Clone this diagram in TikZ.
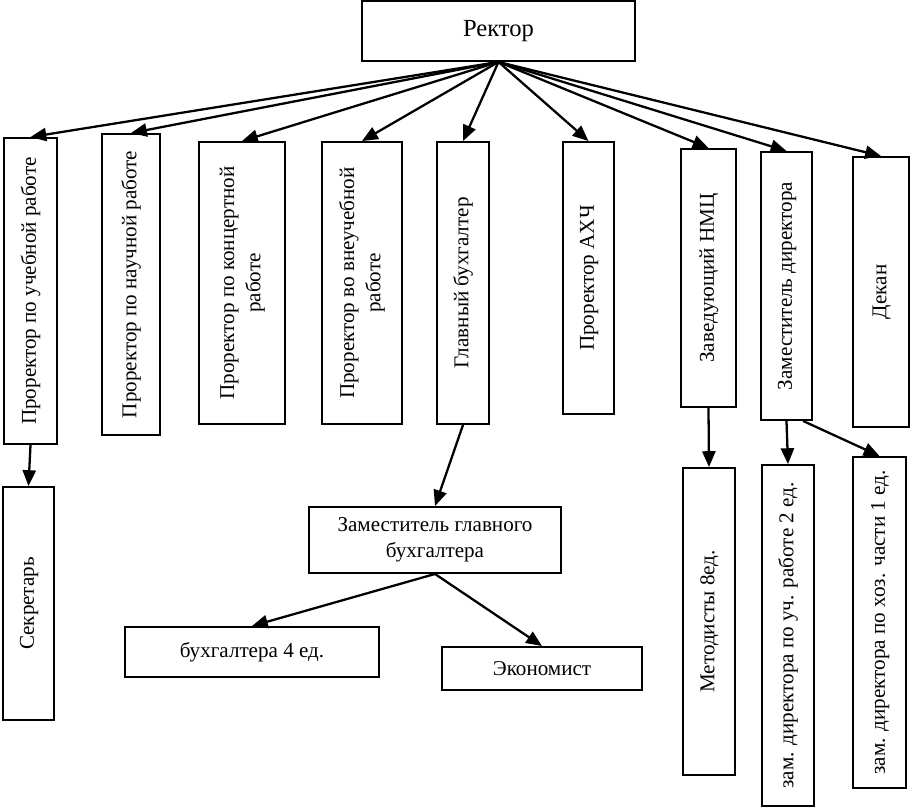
\documentclass[tikz,border=0pt]{standalone}
\usepackage{fontspec}
\setmainfont{Liberation Serif}
\usepackage{graphicx}
\usetikzlibrary{arrows.meta}

\newcommand{\vtext}[1]{\rotatebox{90}{\begin{tabular}{@{}c@{}}#1\end{tabular}}}

\begin{document}
\begin{tikzpicture}[
    post/.style={rectangle, draw, line width=1.1pt, inner sep=0pt, font=\fontsize{12}{15}\selectfont},
    head/.style={post, font=\fontsize{14}{16}\selectfont},
    arrow/.style={-{Triangle[length=9pt,width=7.5pt]}, line width=1.3pt}
]
\useasboundingbox (0,0) rectangle (18.2,-16.14);

% Rector
\node[head, minimum width=5.46cm, minimum height=1.2cm] (rector) at (9.97,-0.62) {Ректор};

% First level
\node[post, minimum width=1.06cm, minimum height=6.12cm] (uchprorector) at (0.61,-5.82) {\vtext{Проректор по учебной работе}};
\node[post, minimum width=1.16cm, minimum height=6.02cm] (nauchprorector) at (2.62,-5.69) {\vtext{Проректор по научной работе}};
\node[post, minimum width=1.72cm, minimum height=5.64cm] (koncprorector) at (4.84,-5.66) {\vtext{Проректор по концертной\\работе}};
\node[post, minimum width=1.6cm, minimum height=5.64cm] (vneuchprorector) at (7.24,-5.66) {\vtext{Проректор во внеучебной\\работе}};
\node[post, minimum width=1.04cm, minimum height=5.64cm] (glavbuh) at (9.26,-5.66) {\vtext{Главный бухгалтер}};
\node[post, minimum width=1.02cm, minimum height=5.44cm] (ahch) at (11.77,-5.56) {\vtext{Проректор АХЧ}};
\node[post, minimum width=1.1cm, minimum height=5.16cm] (nmc) at (14.17,-5.56) {\vtext{Заведующий НМЦ}};
\node[post, minimum width=1.02cm, minimum height=5.36cm] (zamdir) at (15.73,-5.72) {\vtext{Заместитель директора}};
\node[post, minimum width=1.12cm, minimum height=5.4cm] (dekan) at (17.62,-5.84) {\vtext{Декан}};

% Second level
\node[post, minimum width=1.02cm, minimum height=4.66cm] (sekretar) at (0.57,-12.07) {\vtext{Секретарь}};
\node[post, minimum width=5.04cm, minimum height=1.32cm, align=center] (zamglavbuh) at (8.7,-10.8) {Заместитель главного\\бухгалтера};
\node[post, minimum width=1.04cm, minimum height=6.14cm] (metodisty) at (14.18,-12.43) {\vtext{Методисты 8ед.}};
\node[post, minimum width=1.04cm, minimum height=6.82cm] (zamuch) at (15.76,-12.71) {\vtext{зам. директора по уч. работе 2 ед.}};
\node[post, minimum width=1.06cm, minimum height=6.62cm] (zamhoz) at (17.59,-12.45) {\vtext{зам. директора по хоз. части 1 ед.}};

% Third level
\node[post, minimum width=5.08cm, minimum height=1cm] (buhgaltera) at (5.04,-13.04) {бухгалтера 4 ед.};
\node[post, minimum width=4cm, minimum height=0.86cm] (ekonomist) at (10.84,-13.37) {Экономист};

% Rector to first level
\foreach \n in {uchprorector, nauchprorector, koncprorector, vneuchprorector, glavbuh, ahch, nmc, zamdir, dekan}
    \draw[arrow] (rector.south) -- (\n.north);

% Lower links
\draw[arrow] (uchprorector.south) -- (sekretar.north);
\draw[arrow] (glavbuh.south) -- (zamglavbuh.north);
\draw[arrow] (zamglavbuh.south) -- (buhgaltera.north);
\draw[arrow] (zamglavbuh.south) -- (ekonomist.north);
\draw[arrow] (nmc.south) -- (metodisty.north);
\draw[arrow] (zamdir.south) -- (zamuch.north);
\draw[arrow] (zamdir.-83) -- (zamhoz.north);

\end{tikzpicture}
\end{document}
